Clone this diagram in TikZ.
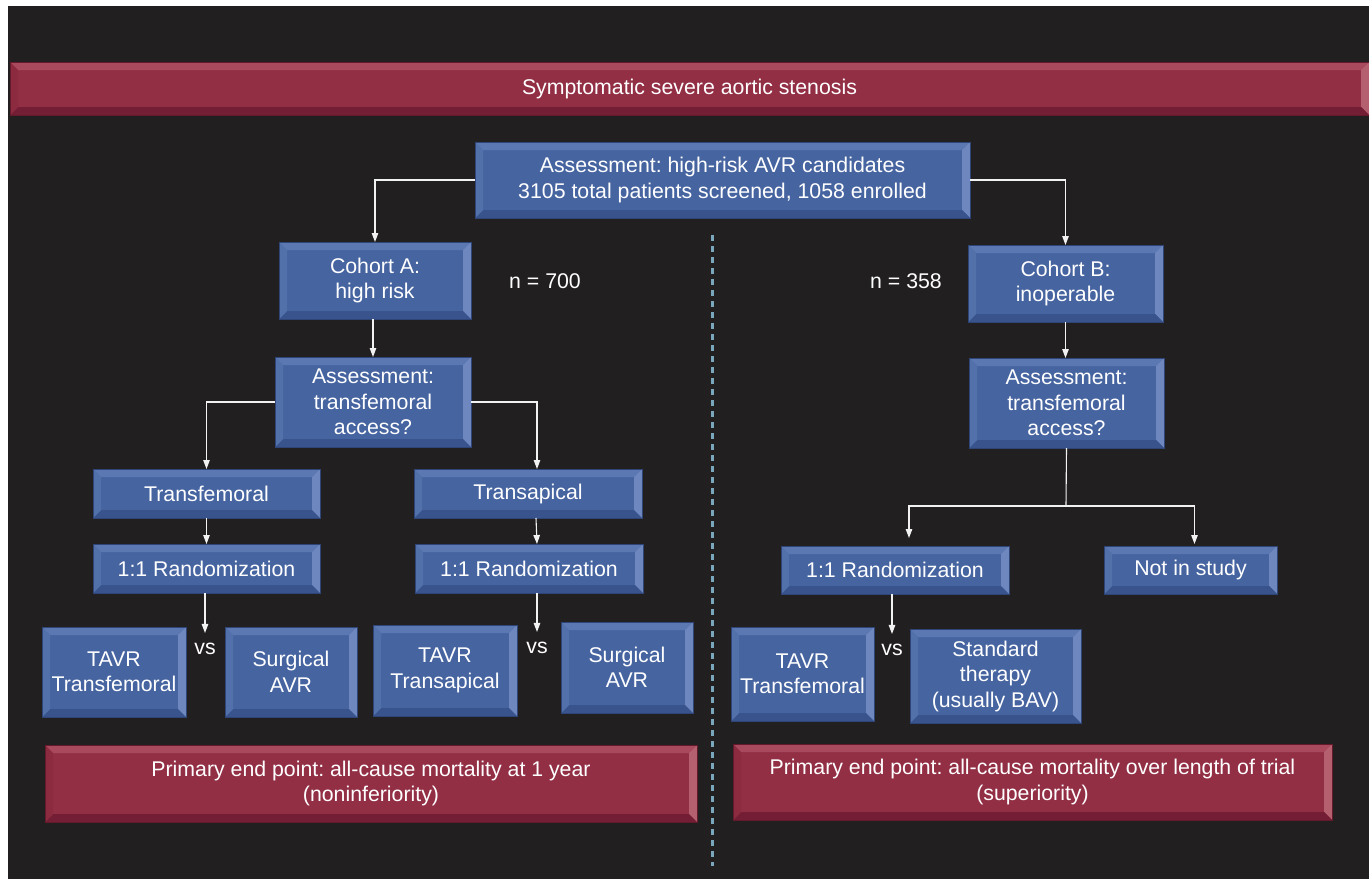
\documentclass[tikz,border=0pt]{standalone}
\usepackage{fontspec}
\setmainfont{Liberation Sans}
\usetikzlibrary{arrows.meta}
\frenchspacing
\definecolor{bgdark}{HTML}{221F20}
\definecolor{bluface}{HTML}{4664A0}
\definecolor{blutop}{HTML}{5B78B2}
\definecolor{blurgt}{HTML}{6E88BF}
\definecolor{blubot}{HTML}{39538C}
\definecolor{blulft}{HTML}{5270AA}
\definecolor{bluout}{HTML}{2F4578}
\definecolor{redface}{HTML}{922F45}
\definecolor{redtop}{HTML}{A9495E}
\definecolor{redrgt}{HTML}{B4606F}
\definecolor{redbot}{HTML}{731E35}
\definecolor{redlft}{HTML}{8C2A40}
\definecolor{redout}{HTML}{651A2C}
\definecolor{dashblue}{HTML}{7BA7BD}
\definecolor{linewhite}{HTML}{F2F2F2}
\newcommand\Bx[7]{\node[#6, minimum width={#4pt-#2pt}, minimum height={#5pt-#3pt}] (#1) at ({(#2+#4)/2},{(#3+#5)/2}) {#7};}
\tikzset{
  bev/.style={path picture={
    \coordinate (pa) at (path picture bounding box.north west);
    \coordinate (pb) at (path picture bounding box.north east);
    \coordinate (pc) at (path picture bounding box.south east);
    \coordinate (pd) at (path picture bounding box.south west);
    \coordinate (qa) at ([shift={(8pt,-8pt)}]pa);
    \coordinate (qb) at ([shift={(-8pt,-8pt)}]pb);
    \coordinate (qc) at ([shift={(-8pt,8pt)}]pc);
    \coordinate (qd) at ([shift={(8pt,8pt)}]pd);
    \fill[#1top] (pa)--(pb)--(qb)--(qa)--cycle;
    \fill[#1rgt] (pb)--(pc)--(qc)--(qb)--cycle;
    \fill[#1bot] (pc)--(pd)--(qd)--(qc)--cycle;
    \fill[#1lft] (pd)--(pa)--(qa)--(qd)--cycle;
  }},
  basebox/.style={rectangle, inner sep=0pt, outer sep=0pt, text=white, align=center,
    font=\fontsize{21.3}{25.5}\selectfont, line width=0.8pt, draw=#1out, fill=#1face, bev=#1},
  bluebox/.style={basebox=blu},
  redbox/.style={basebox=red},
  lbl/.style={text=white, font=\fontsize{21.3}{25.5}\selectfont, inner sep=0pt},
  vslbl/.style={text=white, font=\fontsize{21.3}{25.5}\selectfont, inner sep=10pt},
  ln/.style={draw=linewhite, line width=1.1pt},
  arr/.style={draw=linewhite, line width=1.1pt, -{Triangle[width=6.5pt,length=9pt]}},
  dashline/.style={draw=dashblue, line width=3pt, dash pattern=on 6pt off 5pt}
}
\begin{document}
\begin{tikzpicture}[x=1pt,y=-1pt]
\useasboundingbox (0,0) rectangle (1369,879);
\fill[white] (0,0) rectangle (1369,879);
\fill[bgdark] (8,6) rectangle (1369,879);
% divider
\coordinate (dtop) at (712,235);
\coordinate (dbot) at (712,866);
\draw[dashline] (dtop) -- (dbot);
% boxes
\Bx{banner}{10}{62}{1369}{115}{redbox}{Symptomatic severe aortic stenosis}
\Bx{main}{475}{142}{970}{218}{bluebox}{Assessment: high-risk AVR candidates\\3105 total patients screened, 1058 enrolled}
\Bx{cohA}{279}{242}{471}{319}{bluebox}{Cohort A:\\high risk}
\Bx{assA}{275}{357}{471}{447}{bluebox}{Assessment:\\transfemoral\\access?}
\Bx{tf}{93}{469}{320}{518}{bluebox}{Transfemoral}
\Bx{ta}{414}{469}{642}{518}{bluebox}{Transapical}
\Bx{randA}{93}{544}{320}{593}{bluebox}{1:1 Randomization}
\Bx{randB}{415}{544}{643}{593}{bluebox}{1:1 Randomization}
\Bx{tavrA}{42}{627}{186}{717}{bluebox}{TAVR\\Transfemoral}
\Bx{surgA}{225}{627}{357}{717}{bluebox}{Surgical\\AVR}
\Bx{tavrB}{373}{625}{517}{716}{bluebox}{TAVR\\Transapical}
\Bx{surgB}{561}{622}{693}{713}{bluebox}{Surgical\\AVR}
\Bx{endA}{45}{745}{697}{822}{redbox}{Primary end point: all-cause mortality at 1 year\\(noninferiority)}
\Bx{cohB}{968}{245}{1163}{322}{bluebox}{Cohort B:\\inoperable}
\Bx{assB}{969}{358}{1164}{448}{bluebox}{Assessment:\\transfemoral\\access?}
\Bx{randC}{781}{546}{1009}{594}{bluebox}{1:1 Randomization}
\Bx{notin}{1104}{546}{1277}{594}{bluebox}{Not in study}
\Bx{tavrC}{731}{627}{874}{721}{bluebox}{TAVR\\Transfemoral}
\Bx{std}{910}{629}{1081}{723}{bluebox}{Standard\\therapy\\(usually BAV)}
\Bx{endB}{733}{744}{1332}{820}{redbox}{Primary end point: all-cause mortality over length of trial\\(superiority)}
% labels
\node[lbl] (nA) at (545,281) {n = 700};
\node[lbl] (nB) at (906,281) {n = 358};
\node[vslbl] (vsA) at (205,649) {vs};
\node[vslbl] (vsB) at (537,648) {vs};
\node[vslbl] (vsC) at (892,650) {vs};
% connectors
\draw[arr] (main.west) -| (cohA.north);
\draw[arr] (main.east) -| (cohB.north);
\draw[arr] (assA.north |- cohA.south) -- (assA.north);
\draw[arr] (cohB.south) -- (cohB.south |- assB.north);
\draw[arr] (assA.west) -| (tf.north);
\draw[arr] (assA.east) -| ([xshift=9pt]ta.north);
\draw[arr] (tf.south) -- (randA.north);
\draw[arr] ([xshift=8pt]ta.south) -- ([xshift=8pt]randB.north);
\draw[arr] (vsA.north |- randA.south) -- (vsA.north);
\draw[arr] (vsB.north |- randB.south) -- (vsB.north);
\draw[arr] (vsC.north |- randC.south) -- (vsC.north);
\coordinate (jB) at (1066,506);
\draw[ln] (assB.south) -- (jB);
\draw[arr, shorten >=8pt] (jB) -| ([xshift=14pt]randC.north);
\draw[arr, shorten >=2pt] (jB) -| ([xshift=4pt]notin.north);
\end{tikzpicture}
\end{document}
